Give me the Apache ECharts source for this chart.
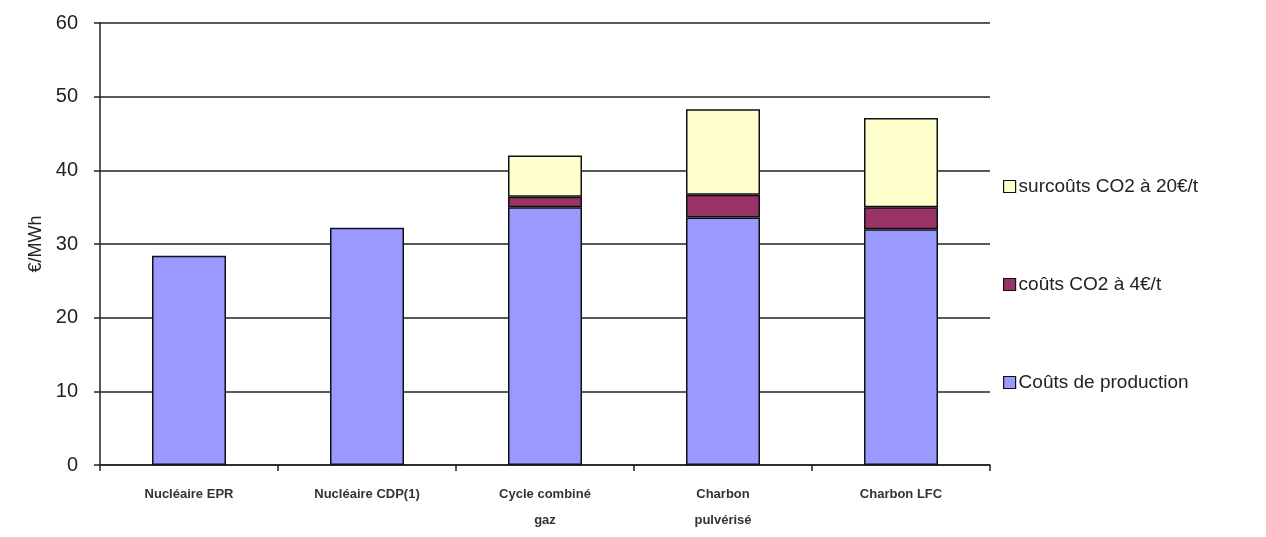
<!DOCTYPE html>
<html><head><meta charset="utf-8">
<script src="https://cdn.jsdelivr.net/npm/echarts@6/dist/echarts.min.js"></script>
<style>html,body{margin:0;padding:0;background:#fff}#c{width:1266px;height:537px}</style>
</head><body><div id="c"></div>
<script>
const categories = ['Nucléaire EPR', 'Nucléaire CDP(1)', 'Cycle combiné\ngaz', 'Charbon\npulvérisé', 'Charbon LFC'];
const production = [28.4, 32.2, 35.0, 33.6, 32.0];
const co2At4 = [null, null, 1.4, 3.1, 3.0];
const co2At20 = [null, null, 5.6, 11.6, 12.1];
const yTicks = [0, 10, 20, 30, 40, 50, 60];
const names = ['Coûts de production', 'coûts CO2 à 4€/t', 'surcoûts CO2 à 20€/t'];

const chart = echarts.init(document.getElementById('c'));
const font = 'Liberation Sans, Arial, sans-serif';
const mk = (name, data, color) => ({
  name, type: 'bar', stack: 's', data, barWidth: 74,
  itemStyle: { color, borderColor: '#111', borderWidth: 1.5 },
  emphasis: { disabled: true }
});
chart.setOption({
  animation: false,
  backgroundColor: '#fff',
  grid: { left: 100, right: 276, top: 23, bottom: 72 },
  legend: {
    orient: 'vertical', left: 998, top: 172, itemGap: 79,
    itemWidth: 12, itemHeight: 12, icon: 'rect',
    data: [names[2], names[1], names[0]],
    itemStyle: { borderColor: '#111', borderWidth: 1.2 },
    textStyle: { fontFamily: font, fontSize: 19, color: '#222', padding: [0, 0, 0, -2] }
  },
  xAxis: {
    type: 'category', data: categories,
    axisLine: { lineStyle: { color: '#222', width: 1.5 } },
    axisTick: { show: true, length: 6, lineStyle: { color: '#222', width: 1.5 } },
    axisLabel: { fontFamily: font, fontSize: 13, fontWeight: 'bold', color: '#333', margin: 16, lineHeight: 26, interval: 0 }
  },
  yAxis: {
    type: 'value', min: 0, max: 60, interval: 10,
    name: '€/MWh', nameLocation: 'middle', nameGap: 52, nameRotate: 90,
    nameTextStyle: { fontFamily: font, fontSize: 18, color: '#222' },
    axisLine: { show: true, lineStyle: { color: '#222', width: 1.5 } },
    axisTick: { show: true, length: 6, lineStyle: { color: '#222', width: 1.5 } },
    axisLabel: { fontFamily: font, fontSize: 20, color: '#222', margin: 22,
      formatter: v => yTicks.includes(v) ? String(v) : '' },
    splitLine: { show: true, lineStyle: { color: '#222', width: 1.5 } }
  },
  series: [
    mk(names[0], production, '#9999FF'),
    mk(names[1], co2At4, '#993366'),
    mk(names[2], co2At20, '#FFFFCC')
  ]
});
</script></body></html>
